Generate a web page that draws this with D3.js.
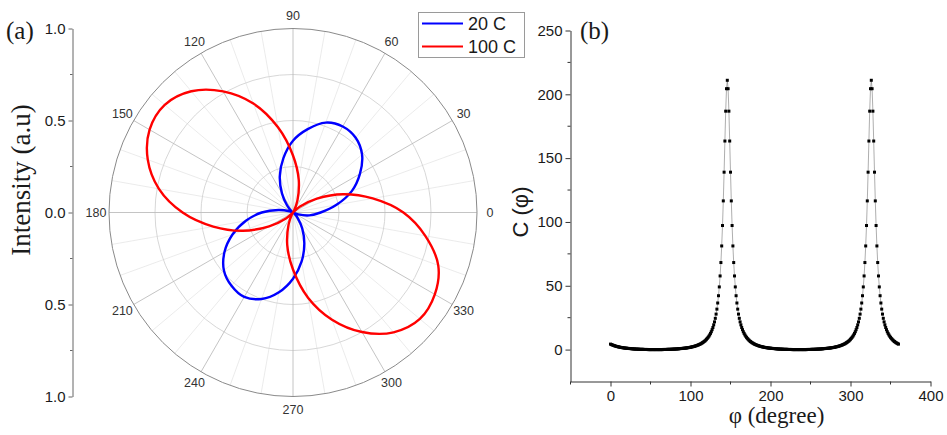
<!DOCTYPE html>
<html>
<head>
<meta charset="utf-8">
<script src="https://cdn.jsdelivr.net/npm/d3@7"></script>
<style>
  body { margin: 0; background: #fff; }
  text { font-family: Arial, "Liberation Sans", sans-serif; fill: #1a1a1a; }
  .serif { font-family: "Times New Roman", "Liberation Serif", serif; }
</style>
</head>
<body>
<div id="chart"></div>
<script>
// ---- panel (a): polar intensity, one value every 10 degrees ----
const polarAngles = [0, 10, 20, 30, 40, 50, 60, 70, 80, 90, 100, 110, 120, 130, 140, 150, 160, 170,
  180, 190, 200, 210, 220, 230, 240, 250, 260, 270, 280, 290, 300, 310, 320, 330, 340, 350];
const blue20 = [0.15, 0.24, 0.34, 0.42, 0.49, 0.53, 0.54, 0.52, 0.46, 0.39, 0.30, 0.21, 0.12, 0.05, 0.01, 0.00, 0.02, 0.08,
  0.17, 0.26, 0.35, 0.43, 0.49, 0.52, 0.53, 0.50, 0.44, 0.36, 0.27, 0.18, 0.10, 0.04, 0.01, 0.00, 0.03, 0.09];
const red100 = [0.60, 0.44, 0.29, 0.15, 0.05, 0.00, 0.01, 0.07, 0.18, 0.31, 0.47, 0.63, 0.76, 0.86, 0.91, 0.90, 0.84, 0.74,
  0.60, 0.44, 0.29, 0.15, 0.05, 0.00, 0.01, 0.07, 0.18, 0.31, 0.47, 0.62, 0.75, 0.85, 0.90, 0.89, 0.84, 0.73];
const seriesNames = ["20 C", "100 C"];
const seriesColors = ["#0000ff", "#ff0000"];
const angleLabels = [0, 30, 60, 90, 120, 150, 180, 210, 240, 270, 300, 330];
const radialTicks = [-1, -0.5, 0, 0.5, 1];

// ---- panel (b): C(phi), one sample per degree from 0 to 360 ----
const cPhi = [
  4.3, 4.0, 3.7, 3.5, 3.2, 3.0, 2.8, 2.6, 2.4, 2.3,
  2.1, 2.0, 1.8, 1.7, 1.6, 1.5, 1.4, 1.3, 1.2, 1.1,
  1.1, 1.0, 0.9, 0.9, 0.8, 0.8, 0.7, 0.6, 0.6, 0.5,
  0.5, 0.4, 0.4, 0.4, 0.3, 0.3, 0.3, 0.2, 0.2, 0.2,
  0.2, 0.2, 0.1, 0.1, 0.1, 0.1, 0.1, 0, 0, 0,
  0, 0, 0, 0, 0, 0, 0, 0, 0, 0,
  0, 0, 0, 0, 0, 0, 0.1, 0.1, 0.1, 0.1,
  0.1, 0.2, 0.2, 0.2, 0.2, 0.2, 0.3, 0.3, 0.3, 0.4,
  0.4, 0.4, 0.5, 0.5, 0.6, 0.6, 0.7, 0.8, 0.8, 0.9,
  0.9, 1.0, 1.1, 1.1, 1.2, 1.3, 1.4, 1.5, 1.6, 1.7,
  1.8, 2.0, 2.1, 2.3, 2.4, 2.6, 2.8, 3.0, 3.2, 3.5,
  3.7, 4.0, 4.3, 4.6, 5.0, 5.4, 5.8, 6.3, 6.8, 7.4,
  8.1, 8.8, 9.6, 10.5, 11.5, 12.7, 14.0, 15.6, 17.3, 19.4,
  21.7, 24.5, 27.8, 31.7, 36.5, 42.2, 49.1, 57.7, 68.2, 81.2,
  97.2, 116.5, 139.0, 163.4, 186.8, 204.4, 211.0, 204.4, 186.8, 163.4,
  139.0, 116.5, 97.2, 81.2, 68.2, 57.7, 49.1, 42.2, 36.5, 31.7,
  27.8, 24.5, 21.7, 19.4, 17.3, 15.6, 14.0, 12.7, 11.5, 10.5,
  9.6, 8.8, 8.1, 7.4, 6.8, 6.3, 5.8, 5.4, 5.0, 4.6,
  4.3, 4.0, 3.7, 3.5, 3.2, 3.0, 2.8, 2.6, 2.4, 2.3,
  2.1, 2.0, 1.8, 1.7, 1.6, 1.5, 1.4, 1.3, 1.2, 1.1,
  1.1, 1.0, 0.9, 0.9, 0.8, 0.8, 0.7, 0.6, 0.6, 0.5,
  0.5, 0.4, 0.4, 0.4, 0.3, 0.3, 0.3, 0.2, 0.2, 0.2,
  0.2, 0.2, 0.1, 0.1, 0.1, 0.1, 0.1, 0, 0, 0,
  0, 0, 0, 0, 0, 0, 0, 0, 0, 0,
  0, 0, 0, 0, 0, 0, 0.1, 0.1, 0.1, 0.1,
  0.1, 0.2, 0.2, 0.2, 0.2, 0.2, 0.3, 0.3, 0.3, 0.4,
  0.4, 0.4, 0.5, 0.5, 0.6, 0.6, 0.7, 0.8, 0.8, 0.9,
  0.9, 1.0, 1.1, 1.1, 1.2, 1.3, 1.4, 1.5, 1.6, 1.7,
  1.8, 2.0, 2.1, 2.3, 2.4, 2.6, 2.8, 3.0, 3.2, 3.5,
  3.7, 4.0, 4.3, 4.6, 5.0, 5.4, 5.8, 6.3, 6.8, 7.4,
  8.1, 8.8, 9.6, 10.5, 11.5, 12.7, 14.0, 15.6, 17.3, 19.4,
  21.7, 24.5, 27.8, 31.7, 36.5, 42.2, 49.1, 57.7, 68.2, 81.2,
  97.2, 116.5, 139.0, 163.4, 186.8, 204.4, 211.0, 204.4, 186.8, 163.4,
  139.0, 116.5, 97.2, 81.2, 68.2, 57.7, 49.1, 42.2, 36.5, 31.7,
  27.8, 24.5, 21.7, 19.4, 17.3, 15.6, 14.0, 12.7, 11.5, 10.5,
  9.6, 8.8, 8.1, 7.4, 6.8, 6.3, 5.8, 5.4, 5.0, 4.6,
  4.3
];
const phiTicks = [0, 100, 200, 300, 400];
const phiMinor = [-50, 50, 150, 250, 350];
const cTicks = [0, 50, 100, 150, 200, 250];
const cMinor = [25, 75, 125, 175, 225];

const width = 947, height = 435;

const svg = d3.select("#chart")
    .append("svg")
    .attr("width", width)
    .attr("height", height)
    .style("display", "block");

svg.append("rect").attr("width", width).attr("height", height).attr("fill", "#fff");

// ================= panel (a) =================
const cx = 293, cy = 212.5, R = 184;
const rScale = d3.scaleLinear().domain([0, 1]).range([0, R]);

const polar = svg.append("g").attr("transform", `translate(${cx},${cy})`);

// minor spokes every 10 degrees
polar.selectAll(".spoke-minor")
    .data(polarAngles.filter(a => a % 30 !== 0))
    .enter().append("line")
    .attr("x2", a => rScale(1) * Math.cos(a * Math.PI / 180))
    .attr("y2", a => -rScale(1) * Math.sin(a * Math.PI / 180))
    .attr("stroke", "#e6e6e6")
    .attr("stroke-width", 0.8);

// grid circles
polar.selectAll(".ring")
    .data([0.25, 0.5, 0.75])
    .enter().append("circle")
    .attr("r", d => rScale(d))
    .attr("fill", "none")
    .attr("stroke", "#d2d2d2")
    .attr("stroke-width", 0.9);

// major spokes every 30 degrees
polar.selectAll(".spoke")
    .data(angleLabels)
    .enter().append("line")
    .attr("x2", a => rScale(1) * Math.cos(a * Math.PI / 180))
    .attr("y2", a => -rScale(1) * Math.sin(a * Math.PI / 180))
    .attr("stroke", "#bdbdbd")
    .attr("stroke-width", 0.9);

polar.append("circle")
    .attr("r", rScale(1))
    .attr("fill", "none")
    .attr("stroke", "#8a8a8a")
    .attr("stroke-width", 1);

// angle labels
polar.selectAll(".alabel")
    .data(angleLabels)
    .enter().append("text")
    .attr("x", a => (R + 13) * Math.cos(a * Math.PI / 180))
    .attr("y", a => -(R + 13) * Math.sin(a * Math.PI / 180))
    .attr("text-anchor", "middle")
    .attr("dominant-baseline", "central")
    .attr("font-size", 12.5)
    .style("fill", "#333")
    .text(a => a);

// curves
const radial = d3.lineRadial()
    .angle(d => (90 - d.a) * Math.PI / 180)
    .radius(d => rScale(d.v))
    .curve(d3.curveCatmullRomClosed.alpha(0.5));

[blue20, red100].forEach((vals, i) => {
    polar.append("path")
        .datum(vals.map((v, j) => ({ a: polarAngles[j], v: v })))
        .attr("d", radial)
        .attr("fill", "none")
        .attr("stroke", seriesColors[i])
        .attr("stroke-width", 2.4);
});

// radial axis shown on the left
const rAxisScale = d3.scaleLinear().domain([-1, 1]).range([cy + R, cy - R]);
const rAxis = svg.append("g")
    .attr("transform", "translate(72.5,0)")
    .call(d3.axisLeft(rAxisScale)
        .tickValues(radialTicks)
        .tickFormat(d => Math.abs(d).toFixed(1))
        .tickSize(4)
        .tickSizeOuter(0)
        .tickPadding(3));
rAxis.selectAll("text").attr("font-size", 15).style("font-family", "Arial, 'Liberation Sans', sans-serif");
rAxis.select(".domain").attr("stroke", "#666");
rAxis.selectAll(".tick line").attr("stroke", "#666");
svg.append("g")
    .attr("transform", "translate(72.5,0)")
    .selectAll("line")
    .data([-0.75, -0.25, 0.25, 0.75])
    .enter().append("line")
    .attr("x2", -2.5)
    .attr("y1", d => rAxisScale(d))
    .attr("y2", d => rAxisScale(d))
    .attr("stroke", "#666");

svg.append("text")
    .attr("class", "serif")
    .attr("transform", "translate(30,180) rotate(-90)")
    .attr("text-anchor", "middle")
    .attr("font-size", 27)
    .text("Intensity (a.u)");

svg.append("text")
    .attr("class", "serif")
    .attr("x", 6).attr("y", 39)
    .attr("font-size", 25)
    .text("(a)");

// legend
const legend = svg.append("g");
legend.append("rect")
    .attr("x", 418.5).attr("y", 12.5)
    .attr("width", 106).attr("height", 45)
    .attr("fill", "#fff")
    .attr("stroke", "#9a9a9a");
seriesNames.forEach((name, i) => {
    const y = 23.5 + i * 23;
    legend.append("line")
        .attr("x1", 422).attr("x2", 463)
        .attr("y1", y).attr("y2", y)
        .attr("stroke", seriesColors[i])
        .attr("stroke-width", 2);
    legend.append("text")
        .attr("x", 468).attr("y", y + 6.5)
        .attr("font-size", 18)
        .text(name);
});

// ================= panel (b) =================
const x = d3.scaleLinear().domain([-50, 400]).range([570.5, 930.5]);
const y = d3.scaleLinear().domain([-25, 250]).range([381.5, 30.5]);

const xAxis = svg.append("g")
    .attr("transform", `translate(0,${y(-25)})`)
    .call(d3.axisBottom(x).tickValues(phiTicks).tickSize(5).tickSizeOuter(0).tickPadding(4));
xAxis.selectAll("text").attr("font-size", 15).style("font-family", "Arial, 'Liberation Sans', sans-serif");
xAxis.append("g").selectAll("line")
    .data(phiMinor)
    .enter().append("line")
    .attr("x1", d => x(d)).attr("x2", d => x(d))
    .attr("y2", 3)
    .attr("stroke", "currentColor");

const yAxis = svg.append("g")
    .attr("transform", `translate(${x(-50)},0)`)
    .call(d3.axisLeft(y).tickValues(cTicks).tickSize(5).tickSizeOuter(0).tickPadding(3));
yAxis.selectAll("text").attr("font-size", 15).style("font-family", "Arial, 'Liberation Sans', sans-serif");
yAxis.append("g").selectAll("line")
    .data(cMinor)
    .enter().append("line")
    .attr("y1", d => y(d)).attr("y2", d => y(d))
    .attr("x2", -3)
    .attr("stroke", "currentColor");
[xAxis, yAxis].forEach(a => {
    a.selectAll("path, line").attr("stroke", "#333");
});

// one point per degree
const points = cPhi.map((c, i) => ({ phi: i, c: c }));

svg.append("path")
    .datum(points)
    .attr("d", d3.line().x(d => x(d.phi)).y(d => y(d.c)))
    .attr("fill", "none")
    .attr("stroke", "#777")
    .attr("stroke-width", 0.6);

svg.append("g").selectAll("rect")
    .data(points)
    .enter().append("rect")
    .attr("x", d => x(d.phi) - 1.5)
    .attr("y", d => y(d.c) - 1.5)
    .attr("width", 3)
    .attr("height", 3)
    .attr("fill", "#000");

svg.append("text")
    .attr("transform", `translate(528,${(y(-25) + y(250)) / 2 + 6}) rotate(-90)`)
    .attr("text-anchor", "middle")
    .attr("font-size", 22)
    .text("C (φ)");

svg.append("text")
    .attr("class", "serif")
    .attr("x", x(400) - 154).attr("y", 423)
    .attr("text-anchor", "middle")
    .attr("font-size", 23)
    .text("φ (degree)");

svg.append("text")
    .attr("class", "serif")
    .attr("x", 580).attr("y", 39)
    .attr("font-size", 25)
    .text("(b)");
</script>
</body>
</html>
